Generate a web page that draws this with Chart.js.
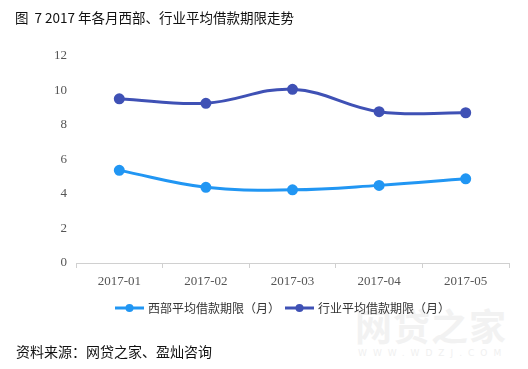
<!DOCTYPE html>
<html>
<head>
<meta charset="utf-8">
<script src="https://cdn.jsdelivr.net/npm/chart.js@4.4.1/dist/chart.umd.min.js"></script>
<style>
  html, body { margin: 0; padding: 0; background: #fff; }
  #wrap { position: relative; width: 528px; height: 369px; overflow: hidden; }
  #chart { position: absolute; left: 0; top: 0; }
  .txt { position: absolute; font-family: "Noto Sans CJK SC", sans-serif; color: #111; white-space: nowrap; }
  #title { left: 15px; top: 7px; font-size: 13.5px; }
  #source { left: 16px; top: 341px; font-size: 14px; }
  #wm1 { left: 355px; top: 298px; font-size: 37px; font-weight: bold; color: #f2f2f2; letter-spacing: 1px; }
  #wm2 { left: 358px; top: 348px; font-size: 9px; color: #f0f0f0; letter-spacing: 6px; font-family: "DejaVu Sans", sans-serif; }
</style>
</head>
<body>
<div id="wrap">
  <div class="txt" id="wm1">网贷之家</div>
  <div class="txt" id="wm2">WWW.WDZJ.COM</div>
  <canvas id="chart" width="528" height="369"></canvas>
  <div class="txt" id="title">图&nbsp;&nbsp;7 2017 年各月西部、行业平均借款期限走势</div>
  <div class="txt" id="source">资料来源：网贷之家、盈灿咨询</div>
</div>
<script>
// 数据
const months = ['2017-01', '2017-02', '2017-03', '2017-04', '2017-05'];
const westTerm = [5.37, 4.39, 4.24, 4.5, 4.88];     // 西部平均借款期限（月）
const industryTerm = [9.52, 9.26, 10.07, 8.77, 8.71]; // 行业平均借款期限（月）
const yTicks = [0, 2, 4, 6, 8, 10, 12];

const westColor = '#2196F3';
const industryColor = '#3F51B5';

// 图例里的小图标：一段线加一个圆点
function legendIcon(color) {
    const c = document.createElement('canvas');
    c.width = 29;
    c.height = 10;
    const ctx = c.getContext('2d');
    ctx.strokeStyle = color;
    ctx.lineWidth = 3;
    ctx.beginPath();
    ctx.moveTo(0, 5);
    ctx.lineTo(29, 5);
    ctx.stroke();
    ctx.fillStyle = color;
    ctx.beginPath();
    ctx.arc(14.5, 5, 4, 0, Math.PI * 2);
    ctx.fill();
    return c;
}

function makeDataset(label, data, color) {
    return {
        label: label,
        data: data,
        borderColor: color,
        backgroundColor: color,
        borderWidth: 3,
        pointRadius: 4,
        pointHoverRadius: 4,
        tension: 0.4,
        fill: false
    };
}

new Chart(document.getElementById('chart'), {
    type: 'line',
    data: {
        labels: months,
        datasets: [
            makeDataset('西部平均借款期限（月）', westTerm, westColor),
            makeDataset('行业平均借款期限（月）', industryTerm, industryColor)
        ]
    },
    options: {
        responsive: false,
        animation: false,
        layout: { padding: { top: 56, right: 19, bottom: 45, left: 0 } },
        plugins: {
            tooltip: { enabled: false },
            legend: {
                display: true,
                position: 'bottom',
                fullSize: false,
                labels: {
                    usePointStyle: true,
                    pointStyleWidth: 25,
                    padding: 7,
                    color: '#333',
                    font: { family: '"Noto Sans CJK SC", sans-serif', size: 12 },
                    generateLabels: function (chart) {
                        return chart.data.datasets.map((ds, i) => ({
                            // 末尾留一点空白，让图例整体稍微偏左一些
                            text: i === chart.data.datasets.length - 1 ? ds.label + '\u3000\u3000' : ds.label,
                            fillStyle: ds.borderColor,
                            strokeStyle: ds.borderColor,
                            pointStyle: legendIcon(ds.borderColor),
                            fontColor: '#333',
                            datasetIndex: i,
                            hidden: false
                        }));
                    }
                }
            }
        },
        scales: {
            x: {
                offset: true,
                grid: {
                    offset: true,
                    drawOnChartArea: false,
                    drawTicks: true,
                    tickLength: 5,
                    color: '#d0d0d0'
                },
                border: { color: '#d0d0d0' },
                ticks: {
                    color: '#555',
                    padding: 6,
                    font: { family: '"Liberation Serif", serif', size: 13 }
                },
                afterFit: function (axis) { axis.height = 32; }
            },
            y: {
                min: 0,
                max: 12,
                afterBuildTicks: function (axis) {
                    axis.ticks = yTicks.map(v => ({ value: v }));
                },
                grid: { display: false, drawTicks: false, tickLength: 0 },
                border: { display: false },
                ticks: {
                    color: '#555',
                    padding: 9,
                    font: { family: '"Liberation Serif", serif', size: 13 }
                },
                afterFit: function (axis) { axis.width = 76; }
            }
        }
    }
});
</script>
</body>
</html>
